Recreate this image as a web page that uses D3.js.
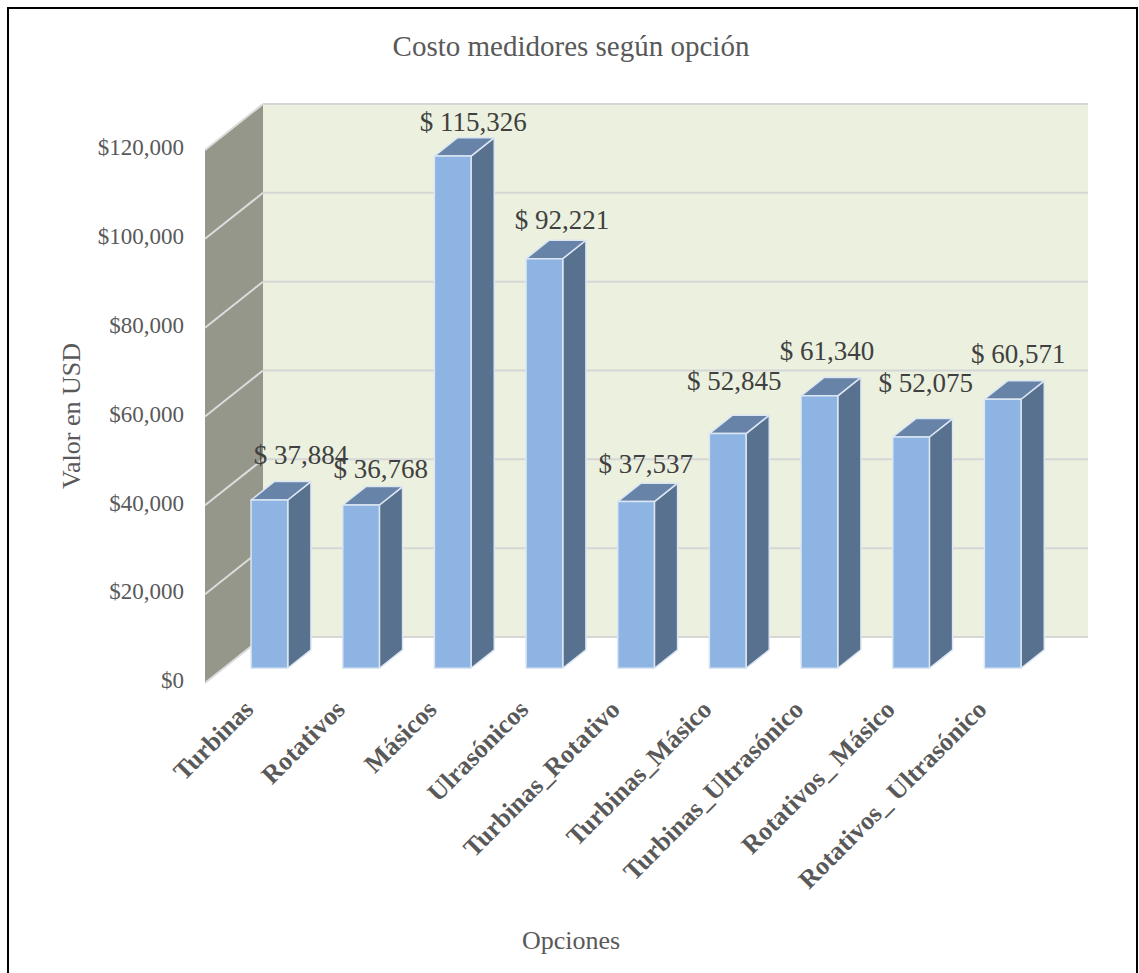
<!DOCTYPE html>
<html>
<head>
<meta charset="utf-8">
<script src="https://cdn.jsdelivr.net/npm/d3@7"></script>
<style>
  html, body { margin: 0; padding: 0; background: #fff; }
  svg { display: block; }
  text { font-family: "Liberation Serif", "Times New Roman", serif; }
</style>
</head>
<body>
<svg id="chart" width="1139" height="973"></svg>
<script>
// Cost per metering option (USD)
const categories = [
  "Turbinas", "Rotativos", "Másicos", "Ulrasónicos", "Turbinas_Rotativo",
  "Turbinas_Másico", "Turbinas_Ultrasónico", "Rotativos_ Másico", "Rotativos_ Ultrasónico"
];
const values = [37884, 36768, 115326, 92221, 37537, 52845, 61340, 52075, 60571];
const yTicks = [0, 20000, 40000, 60000, 80000, 100000, 120000];

const title = "Costo medidores según opción";
const yTitle = "Valor en USD";
const xTitle = "Opciones";

// small per-label placement tweaks [dx, dy] so value labels sit clear of each other
const labelShift = [[15, -9], [3, 0], [4, 2], [1, -2], [-7, -1], [-10, -16], [-9, -9], [-2, -18], [-1, -9]];

const svg = d3.select("#chart");

// Front plane of the 3D box: origin at lower-left, plus oblique depth offset
const ox = 205, oy = 683, W = 825, H = 533;
const DX = 58, DY = -46;

const x = d3.scaleBand().domain(categories).range([0, W]).paddingInner(0.6).paddingOuter(0.3);
const y = d3.scaleLinear().domain([0, 120000]).range([0, H]);

// project (horizontal offset, value, depth fraction) to screen
function P(px, v, f) {
  return [ox + px + DX * f, oy - y(v) + DY * f];
}
const poly = pts => "M" + pts.map(p => p.join(",")).join("L") + "Z";

// outer frame
svg.append("rect").attr("x", 8).attr("y", 8).attr("width", 1129).attr("height", 990)
  .attr("fill", "#fff").attr("stroke", "#000").attr("stroke-width", 2);

const vmax = y.domain()[1];

// back wall
svg.append("path")
  .attr("d", poly([P(0, 0, 1), P(W, 0, 1), P(W, vmax, 1), P(0, vmax, 1)]))
  .attr("fill", "#EBF1DE");

// side wall
svg.append("path")
  .attr("d", poly([P(0, 0, 0), P(0, 0, 1), P(0, vmax, 1), P(0, vmax, 0)]))
  .attr("fill", "#96978B");

// gridlines on back wall
svg.append("g").selectAll("line").data(yTicks).join("line")
  .attr("x1", d => P(0, d, 1)[0]).attr("y1", d => P(0, d, 1)[1])
  .attr("x2", d => P(W, d, 1)[0]).attr("y2", d => P(W, d, 1)[1])
  .attr("stroke", "#D6D6D6").attr("stroke-width", 2);

// gridlines on side wall
svg.append("g").selectAll("line").data(yTicks).join("line")
  .attr("x1", d => P(0, d, 0)[0]).attr("y1", d => P(0, d, 0)[1])
  .attr("x2", d => P(0, d, 1)[0]).attr("y2", d => P(0, d, 1)[1])
  .attr("stroke", "#DCDCDC").attr("stroke-width", 2);

// y-axis tick labels
const fmtTick = d3.format("$,");
svg.append("g").selectAll("text").data(yTicks).join("text")
  .attr("x", ox - 21).attr("y", d => P(0, d, 0)[1])
  .attr("text-anchor", "end").attr("dominant-baseline", "middle")
  .attr("font-size", 23).attr("fill", "#595959")
  .text(d => fmtTick(d));

// 3D columns
const f0 = 0.32, f1 = 0.72;
const bw = x.bandwidth();
const bars = svg.append("g").selectAll("g").data(categories).join("g");
bars.each(function (c, i) {
  const g = d3.select(this);
  const v = values[i];
  const x0 = x(c), x1 = x0 + bw;
  const edge = "#DCE6F2";
  g.append("path")
    .attr("d", poly([P(x1, 0, f0), P(x1, 0, f1), P(x1, v, f1), P(x1, v, f0)]))
    .attr("fill", "#58718F").attr("stroke", edge).attr("stroke-width", 1.5)
    .attr("stroke-linejoin", "round");
  g.append("path")
    .attr("d", poly([P(x0, v, f0), P(x1, v, f0), P(x1, v, f1), P(x0, v, f1)]))
    .attr("fill", "#6783A8").attr("stroke", edge).attr("stroke-width", 1.5)
    .attr("stroke-linejoin", "round");
  g.append("path")
    .attr("d", poly([P(x0, 0, f0), P(x1, 0, f0), P(x1, v, f0), P(x0, v, f0)]))
    .attr("fill", "#8DB4E2").attr("stroke", edge).attr("stroke-width", 1.5)
    .attr("stroke-linejoin", "round");
});

// data labels
const fmtVal = d => "$ " + d3.format(",")(d);
svg.append("g").selectAll("text").data(categories).join("text")
  .attr("x", (c, i) => P(x(c) + bw / 2, values[i], (f0 + f1) / 2)[0] + 5 + labelShift[i][0])
  .attr("y", (c, i) => P(x(c) + bw / 2, values[i], (f0 + f1) / 2)[1] - 18 + labelShift[i][1])
  .attr("text-anchor", "middle")
  .attr("font-size", 27).attr("fill", "#404040")
  .text((c, i) => fmtVal(values[i]));

// category labels, rotated
svg.append("g").selectAll("text").data(categories).join("text")
  .attr("transform", c => {
    const p = P(x(c) + bw / 2, 0, 0);
    return `translate(${p[0] + 4},${p[1] + 28}) rotate(-45)`;
  })
  .attr("text-anchor", "end")
  .attr("font-size", 26).attr("font-weight", "bold").attr("fill", "#595959")
  .text(c => c);

// titles
svg.append("text").attr("x", 571).attr("y", 56).attr("text-anchor", "middle")
  .attr("font-size", 29).attr("fill", "#595959").text(title);

svg.append("text").attr("transform", "translate(80,416) rotate(-90)")
  .attr("text-anchor", "middle")
  .attr("font-size", 26).attr("fill", "#595959").text(yTitle);

svg.append("text").attr("x", 571).attr("y", 949).attr("text-anchor", "middle")
  .attr("font-size", 26).attr("fill", "#595959").text(xTitle);
</script>
</body>
</html>
